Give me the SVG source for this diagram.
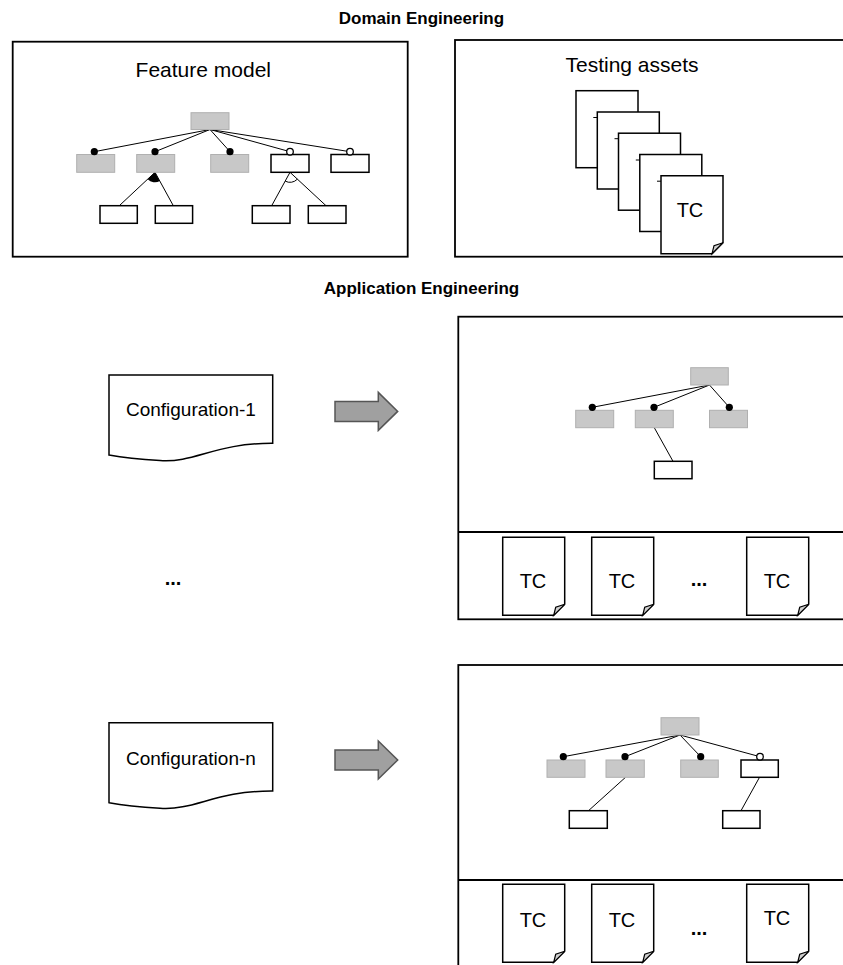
<svg xmlns="http://www.w3.org/2000/svg" width="843" height="965" viewBox="0 0 843 965">
<style>
text{font-family:"Liberation Sans",Arial,sans-serif;fill:#000}
.title{font-size:17px;font-weight:bold;text-anchor:middle}
.lbl{font-size:21px;text-anchor:middle}
.cfg{font-size:19px;text-anchor:middle}
.tc{font-size:20px;text-anchor:middle}
.dots{font-size:20px;font-weight:bold;text-anchor:middle}
.frame{fill:#fff;stroke:#000;stroke-width:1.8}
.div{stroke:#000;stroke-width:1.8}
.g{fill:#c8c8c8;stroke:#b0b0b0;stroke-width:1}
.w{fill:#fff;stroke:#000;stroke-width:1.5}
.ln{stroke:#000;stroke-width:1;fill:none}
.md{fill:#000}
.op{fill:#fff;stroke:#000;stroke-width:1.3}
.doc{fill:#fff;stroke:#000;stroke-width:1.5}
.fold{fill:#d0d0d0;stroke:#000;stroke-width:1.2}
.arrow{fill:#a0a0a0;stroke:#555;stroke-width:1.5}
</style>
<defs>
<g id="tcdoc">
<path class="doc" d="M0 0H62V67L51 78H0Z"/>
<path class="fold" d="M62 67L51 78L53 70Z"/>
</g>
<polygon id="bigArrow" class="arrow" points="0,-10 43.3,-10 43.3,-19 62.7,0 43.3,19 43.3,10 0,10"/>
</defs>

<text class="title" x="421.5" y="24.3">Domain Engineering</text>
<text class="title" x="421.5" y="294">Application Engineering</text>

<g id="feature-model">
<rect class="frame" x="12.7" y="41.7" width="395" height="215"/>
<text class="lbl" x="203.3" y="76.7">Feature model</text>
<g id="fm-connectors">
<line class="ln" x1="210" y1="129.5" x2="94.3" y2="151.7"/>
<line class="ln" x1="210" y1="129.5" x2="155" y2="151.7"/>
<line class="ln" x1="210" y1="129.5" x2="230" y2="151.7"/>
<line class="ln" x1="210" y1="129.5" x2="290" y2="151.7"/>
<line class="ln" x1="210" y1="129.5" x2="350" y2="151.7"/>
<line class="ln" x1="155" y1="172.3" x2="119.3" y2="205.7"/>
<line class="ln" x1="155" y1="172.3" x2="173.3" y2="205.7"/>
<path class="md" d="M155 172.3L147.7 179.2A10 10 0 0 0 159.8 181.1Z"/>
<line class="ln" x1="290" y1="172.3" x2="271.7" y2="205.7"/>
<line class="ln" x1="290" y1="172.3" x2="326" y2="205.7"/>
<path class="ln" d="M285.2 181.1A10 10 0 0 0 297.3 179.2"/>
</g>
<rect class="g" x="191" y="112.7" width="38" height="16.8"/>
<rect class="g" x="76.7" y="154.5" width="38" height="17.8"/>
<rect class="g" x="136.7" y="154.5" width="38" height="17.8"/>
<rect class="g" x="210.7" y="154.5" width="38" height="17.8"/>
<rect class="w" x="271" y="154.5" width="38" height="17.8"/>
<rect class="w" x="331" y="154.5" width="38" height="17.8"/>
<circle class="md" cx="94.3" cy="151.7" r="3.6"/>
<circle class="md" cx="155" cy="151.7" r="3.6"/>
<circle class="md" cx="230" cy="151.7" r="3.6"/>
<circle class="op" cx="290" cy="151.7" r="3.3"/>
<circle class="op" cx="350" cy="151.7" r="3.3"/>
<rect class="w" x="100" y="205.7" width="37.3" height="17.6"/>
<rect class="w" x="155.3" y="205.7" width="37.3" height="17.6"/>
<rect class="w" x="252.3" y="205.7" width="37.7" height="17.6"/>
<rect class="w" x="308.3" y="205.7" width="37.7" height="17.6"/>
</g>

<g id="testing-assets">
<rect class="frame" x="455" y="40" width="400" height="216.7"/>
<text class="lbl" x="632" y="71.7">Testing assets</text>
<rect class="doc" x="576" y="90.7" width="62" height="77"/>
<line class="ln" x1="593.3" y1="117.5" x2="597.3" y2="117.5"/>
<rect class="doc" x="597.3" y="112" width="62" height="77"/>
<line class="ln" x1="614.5" y1="138.7" x2="618.5" y2="138.7"/>
<rect class="doc" x="618.5" y="133.2" width="62" height="77"/>
<line class="ln" x1="635.8" y1="160" x2="639.8" y2="160"/>
<rect class="doc" x="639.8" y="154.5" width="62" height="77"/>
<line class="ln" x1="657" y1="181.2" x2="661" y2="181.2"/>
<use href="#tcdoc" x="661" y="175.7"/>
<text class="tc" x="690" y="216.7">TC</text>
</g>

<g id="config-1">
<path class="doc" d="M109 375H272.7V443.3C215 443 195 463 160 460.5C135 459 120 457 109 455Z"/>
<text class="cfg" x="190.9" y="416">Configuration-1</text>
</g>
<text class="dots" x="173" y="585">...</text>
<g id="config-n">
<path class="doc" d="M109 722.7H272.7V791C215 790.7 195 810.7 160 808.2C135 806.7 120 804.7 109 802.7Z"/>
<text class="cfg" x="190.9" y="765">Configuration-n</text>
</g>

<g id="connectors">
<use href="#bigArrow" x="335" y="411.4"/>
<use href="#bigArrow" x="335" y="760"/>
</g>

<g id="product-1">
<rect class="frame" x="458.3" y="316.7" width="400" height="302.6"/>
<line class="div" x1="458.3" y1="532" x2="850" y2="532"/>
<line class="ln" x1="709.5" y1="385" x2="592.3" y2="407.3"/>
<line class="ln" x1="709.5" y1="385" x2="654" y2="407.3"/>
<line class="ln" x1="709.5" y1="385" x2="729.3" y2="407.3"/>
<line class="ln" x1="654.3" y1="427.7" x2="673" y2="461.3"/>
<rect class="g" x="690.7" y="367.7" width="37.6" height="17.3"/>
<rect class="g" x="575.7" y="410.3" width="38" height="17.4"/>
<rect class="g" x="635.3" y="410.3" width="38" height="17.4"/>
<rect class="g" x="709.5" y="410.3" width="38" height="17.4"/>
<circle class="md" cx="592.3" cy="407.3" r="3.6"/>
<circle class="md" cx="654" cy="407.3" r="3.6"/>
<circle class="md" cx="729.3" cy="407.3" r="3.6"/>
<rect class="w" x="654.3" y="461.3" width="37.7" height="17.4"/>
<use href="#tcdoc" x="502.7" y="537.3"/>
<use href="#tcdoc" x="591.7" y="537.3"/>
<use href="#tcdoc" x="746.7" y="537.3"/>
<text class="tc" x="533" y="588.3">TC</text>
<text class="tc" x="622" y="588.3">TC</text>
<text class="tc" x="777" y="588.3">TC</text>
<text class="dots" x="699" y="586">...</text>
</g>

<g id="product-n">
<rect class="frame" x="458.3" y="665" width="400" height="320"/>
<line class="div" x1="458.3" y1="880" x2="850" y2="880"/>
<line class="ln" x1="680" y1="735" x2="563.3" y2="756.7"/>
<line class="ln" x1="680" y1="735" x2="625" y2="756.7"/>
<line class="ln" x1="680" y1="735" x2="700.7" y2="756.7"/>
<line class="ln" x1="680" y1="735" x2="760" y2="756.7"/>
<line class="ln" x1="625.5" y1="777.3" x2="588.5" y2="810.7"/>
<line class="ln" x1="759.5" y1="777.3" x2="741" y2="810.7"/>
<rect class="g" x="661" y="717.7" width="38" height="17.3"/>
<rect class="g" x="547" y="760" width="38" height="17.3"/>
<rect class="g" x="606" y="760" width="38.3" height="17.3"/>
<rect class="g" x="680.7" y="760" width="37.6" height="17.3"/>
<rect class="w" x="741" y="760" width="37.3" height="17.3"/>
<circle class="md" cx="563.3" cy="756.7" r="3.6"/>
<circle class="md" cx="625" cy="756.7" r="3.6"/>
<circle class="md" cx="700.7" cy="756.7" r="3.6"/>
<circle class="op" cx="760" cy="756.7" r="3.3"/>
<rect class="w" x="569.3" y="810.7" width="38" height="17.6"/>
<rect class="w" x="722.7" y="810.7" width="37.3" height="17.6"/>
<use href="#tcdoc" x="502.7" y="884.3"/>
<use href="#tcdoc" x="591.7" y="884.3"/>
<use href="#tcdoc" x="746.7" y="884.3"/>
<text class="tc" x="533" y="926.7">TC</text>
<text class="tc" x="622" y="926.7">TC</text>
<text class="tc" x="777" y="925">TC</text>
<text class="dots" x="699" y="935">...</text>
</g>
</svg>
